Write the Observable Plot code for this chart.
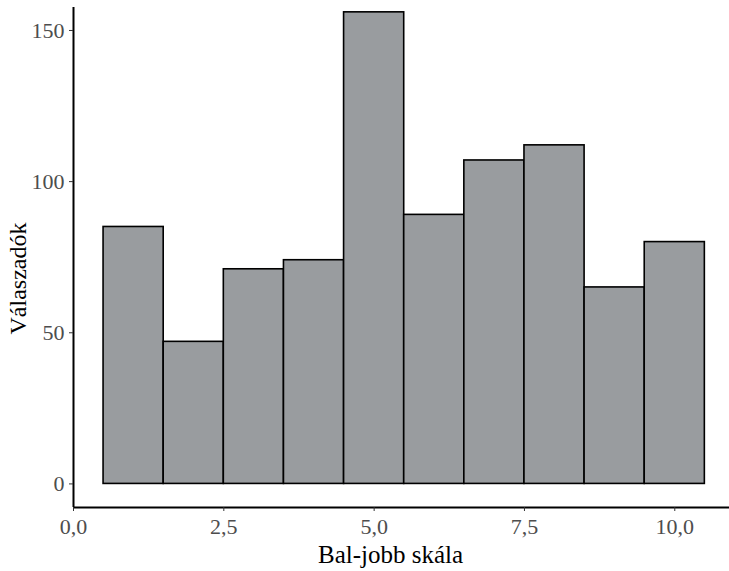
<!DOCTYPE html>
<html><head><meta charset="utf-8">
<script src="https://cdn.jsdelivr.net/npm/d3@7"></script>
<script src="https://cdn.jsdelivr.net/npm/@observablehq/plot@0.6"></script>
<style>body{margin:0;background:#fff}</style>
</head><body><div id="chart"></div>
<script>
const binCenters = [1, 2, 3, 4, 5, 6, 7, 8, 9, 10];
const counts = [85, 47, 71, 74, 156, 89, 107, 112, 65, 80];
const xTicks = [0, 2.5, 5, 7.5, 10];
const yTicks = [0, 50, 100, 150];
const xTitle = "Bal-jobb skála";
const yTitle = "Válaszadók";

const data = binCenters.map((c, i) => ({x1: c - 0.5, x2: c + 0.5, n: counts[i]}));
const fmt = d => d3.format(".1f")(d).replace(".", ",");
const xDom = [0, 10.91], yDom = [-7.8, 157.6];
const font = "'Liberation Serif', serif";

const chart = Plot.plot({
  width: 729, height: 571,
  marginLeft: 73, marginRight: 0, marginTop: 7, marginBottom: 64,
  style: {fontFamily: font, fontSize: "22px", background: "#fff"},
  x: {domain: xDom},
  y: {domain: yDom},
  marks: [
    Plot.rectY(data, {x1: "x1", x2: "x2", y: "n", fill: "#999c9f", stroke: "#000", strokeWidth: 1.6, inset: 0}),
    Plot.ruleX([xDom[0]], {stroke: "#000", strokeWidth: 2}),
    Plot.ruleY([yDom[0]], {stroke: "#000", strokeWidth: 2}),
    Plot.axisX({ticks: xTicks, tickFormat: fmt, tickSize: 4, tickPadding: 7, stroke: "#333", color: "#4d4d4d", fontSize: 22, label: null}),
    Plot.axisY({ticks: yTicks, tickSize: 4, tickPadding: 5, stroke: "#333", color: "#4d4d4d", fontSize: 22, label: null}),
    Plot.text([xTitle], {frameAnchor: "bottom", textAnchor: "middle", dx: -11, dy: 55, fill: "#000", fontSize: 25}),
    Plot.text([yTitle], {frameAnchor: "left", textAnchor: "middle", dx: -55, dy: 21, rotate: -90, fill: "#000", fontSize: 24})
  ]
});
document.getElementById("chart").append(chart);
</script></body></html>
